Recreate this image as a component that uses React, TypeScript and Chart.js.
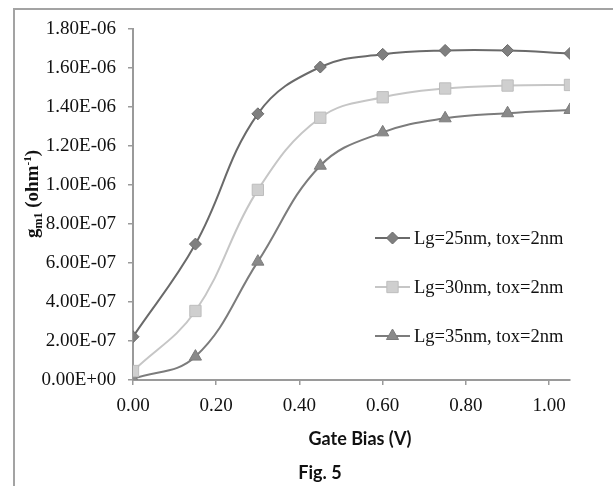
import React, { useEffect, useRef } from "react";
import { Chart, registerables } from "chart.js";
import { drawPoint } from "chart.js/helpers";

Chart.register(...registerables);

const gateBias = [0, 0.15, 0.3, 0.45, 0.6, 0.75, 0.9, 1.05];
const seriesLabels = ["Lg=25nm, tox=2nm", "Lg=30nm, tox=2nm", "Lg=35nm, tox=2nm"];
const gm25 = [2.22e-7, 6.97e-7, 1.365e-6, 1.605e-6, 1.67e-6, 1.69e-6, 1.69e-6, 1.675e-6];
const gm30 = [4.6e-8, 3.54e-7, 9.75e-7, 1.345e-6, 1.45e-6, 1.495e-6, 1.51e-6, 1.513e-6];
const gm35 = [5e-9, 1.2e-7, 6.07e-7, 1.099e-6, 1.27e-6, 1.342e-6, 1.368e-6, 1.385e-6];
const xTickValues = [0, 0.2, 0.4, 0.6, 0.8, 1.0];
const yTickValues = [0, 2e-7, 4e-7, 6e-7, 8e-7, 1e-6, 1.2e-6, 1.4e-6, 1.6e-6, 1.8e-6];

const SERIF = "'Liberation Serif', 'DejaVu Serif', serif";
const SANS_BOLD = "Lato, 'Noto Sans', sans-serif";

function fmtExp(v: number): string {
  if (Math.abs(v) < 1e-15) return "0.00E+00";
  const s = v.toExponential(2);
  const [m, e] = s.split("e");
  const sign = e[0] === "-" ? "-" : "+";
  const digits = e.replace(/[+-]/, "").padStart(2, "0");
  return `${m}E${sign}${digits}`;
}

const decorPlugin = {
  id: "decor",
  beforeDraw(chart: any) {
    const ctx = chart.ctx;
    ctx.save();
    ctx.fillStyle = "#fff";
    ctx.fillRect(0, 0, chart.width, chart.height);
    ctx.strokeStyle = "#a3a3a3";
    ctx.lineWidth = 2;
    ctx.beginPath();
    ctx.moveTo(14, 486);
    ctx.lineTo(14, 9);
    ctx.lineTo(613, 9);
    ctx.stroke();
    ctx.restore();
  },
  afterDraw(chart: any) {
    const ctx = chart.ctx;
    ctx.save();
    ctx.fillStyle = "#111";
    ctx.font = `bold 18px ${SANS_BOLD}`;
    ctx.textAlign = "center";
    ctx.textBaseline = "middle";
    ctx.fillText("Gate Bias (V)", 360, 439);
    ctx.fillText("Fig. 5", 320, 473);

    // y title rotated with sub/superscript
    ctx.translate(32, 194);
    ctx.rotate(-Math.PI / 2);
    const parts: { t: string; size: number; dy: number }[] = [
      { t: "g", size: 19, dy: 0 },
      { t: "m1", size: 12, dy: 4 },
      { t: " (ohm", size: 19, dy: 0 },
      { t: "-1", size: 11, dy: -7 },
      { t: ")", size: 19, dy: 0 },
    ];
    let total = 0;
    for (const p of parts) {
      ctx.font = `bold ${p.size}px ${SERIF}`;
      total += ctx.measureText(p.t).width;
    }
    let x = -total / 2;
    ctx.textAlign = "left";
    ctx.textBaseline = "alphabetic";
    for (const p of parts) {
      ctx.font = `bold ${p.size}px ${SERIF}`;
      ctx.fillText(p.t, x, 6 + p.dy);
      x += ctx.measureText(p.t).width;
    }
    ctx.restore();

    // legend
    const ys = [238, 287, 336];
    chart.data.datasets.forEach((ds: any, i: number) => {
      const y = ys[i];
      ctx.save();
      ctx.strokeStyle = ds.borderColor;
      ctx.lineWidth = 2;
      ctx.beginPath();
      ctx.moveTo(375, y);
      ctx.lineTo(410, y);
      ctx.stroke();
      ctx.fillStyle = ds.pointBackgroundColor;
      ctx.strokeStyle = ds.pointBorderColor;
      ctx.lineWidth = 1;
      drawPoint(ctx, { pointStyle: ds.pointStyle, radius: ds.pointRadius, rotation: 0, borderWidth: 1 }, 392.5, y);
      ctx.fillStyle = "#111";
      ctx.font = `18.5px ${SERIF}`;
      ctx.textAlign = "left";
      ctx.textBaseline = "middle";
      ctx.fillText(ds.label, 414, y + 1);
      ctx.restore();
    });
  },
};

export default function App() {
  const ref = useRef<HTMLCanvasElement | null>(null);
  useEffect(() => {
    if (!ref.current) return;
    const mk = (arr: number[]) => gateBias.map((x, i) => ({ x, y: arr[i] }));
    const chart = new Chart(ref.current, {
      type: "line",
      data: {
        datasets: [
          {
            label: seriesLabels[0],
            data: mk(gm25),
            borderColor: "#6a6a6a",
            borderWidth: 2,
            pointStyle: "rectRot",
            pointRadius: 6,
            pointBackgroundColor: "#7f7f7f",
            pointBorderColor: "#6a6a6a",
            pointBorderWidth: 1,
            tension: 0.4,
          },
          {
            label: seriesLabels[1],
            data: mk(gm30),
            borderColor: "#c6c6c6",
            borderWidth: 2,
            pointStyle: "rect",
            pointRadius: 8,
            pointBackgroundColor: "#cfcfcf",
            pointBorderColor: "#bdbdbd",
            pointBorderWidth: 1,
            tension: 0.4,
          },
          {
            label: seriesLabels[2],
            data: mk(gm35),
            borderColor: "#7c7c7c",
            borderWidth: 2,
            pointStyle: "triangle",
            pointRadius: 7,
            pointBackgroundColor: "#8a8a8a",
            pointBorderColor: "#7c7c7c",
            pointBorderWidth: 1,
            tension: 0.4,
          },
        ] as any,
      },
      options: {
        animation: false,
        responsive: false,
        devicePixelRatio: 1,
        layout: { padding: { left: 0, right: 43, top: 29, bottom: 0 } },
        plugins: { legend: { display: false }, tooltip: { enabled: false } },
        scales: {
          x: {
            type: "linear",
            min: 0,
            max: 1.05,
            afterBuildTicks: (axis: any) => {
              axis.ticks = xTickValues.map((v) => ({ value: v }));
            },
            afterFit: (axis: any) => {
              axis.height = 106;
            },
            ticks: {
              callback: (v: any) => Number(v).toFixed(2),
              font: { family: SERIF, size: 19 },
              color: "#111",
              padding: 10,
              maxRotation: 0,
              autoSkip: false,
            },
            grid: { drawOnChartArea: false, drawTicks: true, tickLength: 5, color: "#9a9a9a", lineWidth: 1.5 },
            border: { color: "#9a9a9a", width: 2 },
          },
          y: {
            type: "linear",
            min: 0,
            max: 1.8e-6,
            afterBuildTicks: (axis: any) => {
              axis.ticks = yTickValues.map((v) => ({ value: v }));
            },
            afterFit: (axis: any) => {
              axis.width = 133;
            },
            ticks: {
              callback: (v: any) => fmtExp(Number(v)),
              font: { family: SERIF, size: 19 },
              color: "#111",
              padding: 12,
              autoSkip: false,
            },
            grid: { drawOnChartArea: false, drawTicks: true, tickLength: 5, color: "#9a9a9a", lineWidth: 1.5 },
            border: { color: "#9a9a9a", width: 2 },
          },
        },
      },
      plugins: [decorPlugin],
    });
    return () => chart.destroy();
  }, []);
  return (
    <div style={{ position: "absolute", left: 0, top: 0, width: 613, height: 486, background: "#fff" }}>
      <canvas ref={ref} width={613} height={486} style={{ width: 613, height: 486, display: "block" }} />
    </div>
  );
}
